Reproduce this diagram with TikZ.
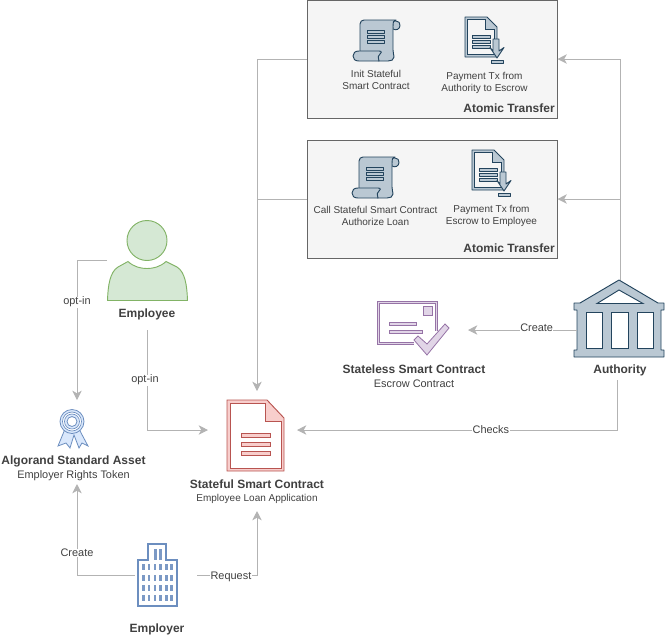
\documentclass[tikz,border=0pt]{standalone}
\usepackage{fontspec}
\setmainfont{Liberation Sans}
\usetikzlibrary{arrows.meta}
\definecolor{linegray}{HTML}{B3B3B3}
\definecolor{textgray}{HTML}{404040}
\definecolor{slate}{HTML}{23445D}
\definecolor{slatefill}{HTML}{BAC8D3}
\definecolor{greenline}{HTML}{82B366}
\definecolor{greenfill}{HTML}{D5E8D4}
\definecolor{blueline}{HTML}{6C8EBF}
\definecolor{bluefill}{HTML}{DAE8FC}
\definecolor{redline}{HTML}{B85450}
\definecolor{redfill}{HTML}{F8CECC}
\definecolor{purpleline}{HTML}{9673A6}
\definecolor{purplefill}{HTML}{E1D5E7}
\tikzset{
    conn/.style={draw=linegray, line width=0.75pt, -{Stealth[length=7pt, width=7pt, inset=2pt]}},
    tag/.style={font=\fontsize{8.2}{9}\selectfont, text=textgray, fill=white, inner sep=0.3pt},
    small/.style={font=\fontsize{7.5}{9}\selectfont, text=textgray, align=center, inner sep=0pt},
    subtitle/.style={font=\fontsize{8.2}{9}\selectfont, text=textgray, align=center, inner sep=0pt},
    title/.style={font=\fontsize{9}{11}\selectfont\bfseries, text=textgray, align=center, inner sep=0pt},
    transfer/.style={draw=black!60, fill=black!4, line width=0.75pt, minimum width=187.5pt, minimum height=88.5pt, inner sep=0pt},
    slateline/.style={draw=slate, line width=0.7pt, fill=slatefill, line join=round},
    greenline/.style={draw=greenline, fill=greenfill, line width=0.7pt},
    blueline/.style={draw=blueline, fill=bluefill, line width=0.6pt},
    redline/.style={draw=redline, fill=redfill, line width=0.7pt},
    purpleline/.style={draw=purpleline, fill=purplefill, line width=0.6pt},
}
% scroll, top left corner at the origin
\newcommand{\scrollicon}{
    \draw[slateline] (39,1) -- (43,1) .. controls (46,1) and (47,3) .. (47,5.5) .. controls (47,9) and (43,11) .. (40,9) -- cycle;
    \draw[slateline] (7,32) -- (7,4) .. controls (7,1.5) and (9,0) .. (11,0) -- (43,0) .. controls (40,0) and (40,3) .. (40,6) -- (40,30) .. controls (40,32) and (41,36) .. (41,37) .. controls (41,40) and (38,41) .. (35,41) -- (26,41) -- cycle;
    \draw[slateline] (6,31) -- (26,31) .. controls (29,31) and (29,33) .. (27,34) .. controls (25,35) and (25,37) .. (26,41) -- (6,41) .. controls (2,41) and (0,39) .. (0,36) .. controls (0,33) and (2,31) .. (6,31) -- cycle;
    \draw[slateline] (14,10.5) rectangle (31,13);
    \draw[slateline] (14,15.5) rectangle (31,18);
    \draw[slateline] (14,20.5) rectangle (31,23);
}
% page with arrow, top left corner at the origin
\newcommand{\docicon}{
    \draw[slateline] (0,0) -- (22,0) -- (32,10) -- (32,40) -- (0,40) -- cycle;
    \draw[draw=slate, line width=0.6pt, fill=black!4] (2.5,2.5) -- (20,2.5) -- (20,12) -- (29.5,12) -- (29.5,37.5) -- (2.5,37.5) -- cycle;
    \draw[slateline] (7,18.5) rectangle (25,21);
    \draw[slateline] (7,23.5) rectangle (25,26);
    \draw[slateline] (7,28.5) rectangle (25,31);
    \draw[slateline] (28,22) -- (34,22) -- (34,34) -- (39,30.5) -- (32,41) -- (25,30.5) -- (28,34) -- cycle;
    \draw[slateline] (26,43.5) rectangle (38,46);
}
\begin{document}
\begin{tikzpicture}[x=0.75pt, y=-0.75pt]
    \useasboundingbox (0,0) rectangle (665,637);

    % atomic transfers
    \node[transfer] (transferA) at (432,59) {};
    \node[title, anchor=east] (atomicA) at (555,108.5) {Atomic Transfer};
    \begin{scope}[shift={(353,20)}]
        \scrollicon
    \end{scope}
    \begin{scope}[shift={(465,17)}]
        \docicon
    \end{scope}
    \node[small] (initText) at (376,79.5) {Init Stateful\\Smart Contract};
    \node[small] (payA) at (484.5,82.5) {Payment Tx from\\Authority to Escrow};

    \node[transfer] (transferB) at (432,199) {};
    \node[title, anchor=east] (atomicB) at (555,248.5) {Atomic Transfer};
    \begin{scope}[shift={(352,157)}]
        \scrollicon
    \end{scope}
    \begin{scope}[shift={(472,150)}]
        \docicon
    \end{scope}
    \node[small] (callText) at (375.5,215.5) {Call Stateful Smart Contract\\Authorize Loan};
    \node[small] (payB) at (491.5,215.5) {Payment Tx from\\Escrow to Employee};

    % employee
    \draw[greenline] (147,240.5) circle (20);
    \draw[greenline] (107.5,300.5) .. controls (108,285) and (110,272) .. (118,267) -- (128,261.5) .. controls (134,267) and (141,268.5) .. (147,268.5) .. controls (153,268.5) and (160,267) .. (166,261.5) -- (177,267) .. controls (185,272) and (187,285) .. (187.5,300.5) -- cycle;
    \node[title] (employee) at (147,314.5) {Employee};

    % token
    \draw[blueline] (65,429) -- (58,446) -- (66,443) -- (70,448) -- (74,435) -- (79,448) -- (82,443) -- (88,446) -- (79,429) -- cycle;
    \draw[blueline] (72,421.5) circle (12);
    \draw[blueline, fill=white, line width=0.5pt] (72,421.5) circle (9.5);
    \draw[blueline, line width=0.5pt] (72,421.5) circle (7.5);
    \draw[blueline, fill=white] (72,421.5) circle (5);
    \node[title] (asset) at (73.5,461) {Algorand Standard Asset};
    \node[subtitle] (assetSub) at (73.5,475.5) {Employer Rights Token};

    % stateful contract
    \draw[redline] (227,400) -- (267,400) -- (284,418) -- (284,471) -- (227,471) -- cycle;
    \draw[redline, fill=white, line width=0.6pt] (230.5,403.5) -- (265,403.5) -- (265,421) -- (281,421) -- (281,468) -- (230.5,468) -- cycle;
    \draw[redline, line width=0.6pt] (241.5,433.5) rectangle (270.5,437.5);
    \draw[redline, line width=0.6pt] (241.5,442.5) rectangle (270.5,446.5);
    \draw[redline, line width=0.6pt] (241.5,451.5) rectangle (270.5,455.5);
    \node[title] (stateful) at (257,484) {Stateful Smart Contract};
    \node[small] (statefulSub) at (257,498.5) {Employee Loan Application};

    % stateless contract
    \draw[draw=purpleline, double=purplefill, double distance=1.4pt, line width=0.5pt] (414,343.5) -- (378.5,343.5) -- (378.5,302.5) -- (436.5,302.5) -- (436.5,331);
    \draw[purpleline] (423,306) rectangle (432,315);
    \draw[purpleline] (389,322.5) rectangle (416,325.5);
    \draw[purpleline] (389,330.5) rectangle (422,333.5);
    \draw[purpleline] (414,340) -- (418,336) -- (427,344) -- (445,324) -- (449,328) -- (427,355) -- cycle;
    \node[title] (stateless) at (414,369) {Stateless Smart Contract};
    \node[subtitle] (statelessSub) at (414,383.5) {Escrow Contract};

    % authority
    \draw[slateline] (619,280) -- (658,303) -- (664,303) -- (664,310) -- (661,310) -- (661,350) -- (664,350) -- (664,357) -- (574,357) -- (574,350) -- (577,350) -- (577,310) -- (574,310) -- (574,303) -- (580,303) -- cycle;
    \draw[draw=slate, line width=0.7pt, fill=white] (597,303.5) -- (619,290) -- (643,303.5) -- cycle;
    \draw[draw=slate, line width=0.7pt, fill=white] (586,312) rectangle (602,348);
    \draw[draw=slate, line width=0.7pt, fill=white] (611,312) rectangle (628,348);
    \draw[draw=slate, line width=0.7pt, fill=white] (637,312) rectangle (653,348);
    \node[title] (authority) at (620,370.5) {Authority};

    % employer
    \draw[draw=blueline, line width=1.5pt, fill=white] (138,606) -- (138,560) -- (148,560) -- (148,544) -- (166,544) -- (166,560) -- (177,560) -- (177,606) -- cycle;
    \foreach \col in {142,147.5,153.5,159,165,170}
        \foreach \row in {564,574.5,585,595}
            \fill[blueline!90] (\col,\row) rectangle +(2.8,6);
    \fill[blueline!90] (154,549) rectangle (156.5,560);
    \fill[blueline!90] (159,549) rectangle (161.5,560);
    \node[title] (employer) at (157,629.5) {Employer};

    % connector ends
    \coordinate (busA) at (257,59);
    \coordinate (busB) at (257,199);
    \coordinate (statefulTop) at (257,391);
    \coordinate (statefulLeft) at (208,430);
    \coordinate (statefulRight) at (297,430);
    \coordinate (statefulDown) at (257,511);
    \coordinate (authorityTop) at (620,280);
    \coordinate (authorityLeft) at (577,330);
    \coordinate (authorityDown) at (617,380);
    \coordinate (statelessRight) at (468,330);
    \coordinate (employeeLeft) at (107,260);
    \coordinate (employeeDown) at (147,330);
    \coordinate (assetTop) at (77,400);
    \coordinate (assetDown) at (77,484);
    \coordinate (employerLeft) at (135,575);
    \coordinate (employerRight) at (197,575);

    \draw[conn] (transferA.west) -- (busA) -- (statefulTop);
    \draw[draw=linegray, line width=0.75pt] (transferB.west) -- (busB);
    \draw[conn] (authorityTop) |- (transferA.east);
    \draw[conn] (authorityTop) |- (transferB.east);
    \draw[conn] (authorityLeft) -- (statelessRight) node[tag, pos=0.37, yshift=1.5pt] (createA) {Create};
    \draw[conn] (authorityDown) |- (statefulRight) node[tag, pos=0.697] (checks) {Checks};
    \draw[conn] (employeeLeft) -| (assetTop) node[tag, pos=0.65] (optinA) {opt-in};
    \draw[conn] (employeeDown) |- (statefulLeft) node[tag, pos=0.25, xshift=-1.5pt] (optinB) {opt-in};
    \draw[conn] (employerLeft) -| (assetDown) node[tag, pos=0.62] (createB) {Create};
    \draw[conn] (employerRight) -| (statefulDown) node[tag, pos=0.283, yshift=-1.5pt] (request) {Request};
\end{tikzpicture}
\end{document}
